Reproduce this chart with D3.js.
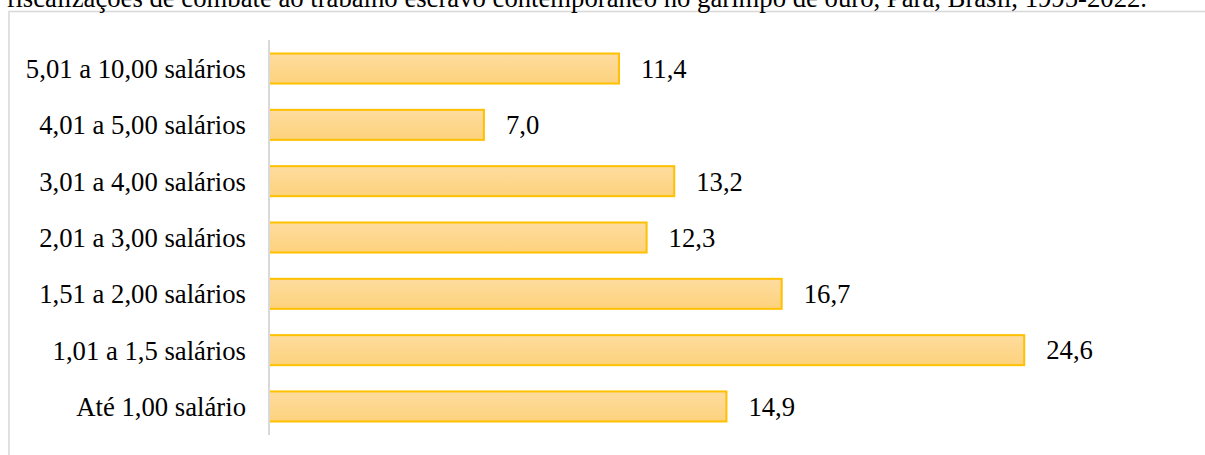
<!DOCTYPE html>
<html>
<head>
<meta charset="utf-8">
<script src="https://cdn.jsdelivr.net/npm/d3@7"></script>
<style>
  body { margin: 0; background: #fff; }
  svg { display: block; }
</style>
</head>
<body>
<svg id="chart" width="1205" height="455"></svg>
<script>
const titleText = "fiscalizações de combate ao trabalho escravo contemporâneo no garimpo de ouro, Pará, Brasil, 1995-2022.";
const categories = [
  "5,01 a 10,00 salários",
  "4,01 a 5,00 salários",
  "3,01 a 4,00 salários",
  "2,01 a 3,00 salários",
  "1,51 a 2,00 salários",
  "1,01 a 1,5 salários",
  "Até 1,00 salário"
];
const values = [11.4, 7.0, 13.2, 12.3, 16.7, 24.6, 14.9];

const width = 1205, height = 455;
const serif = "'Liberation Serif'";
const fontSize = 26.7;
const svg = d3.select("#chart");
const fmt = v => v.toFixed(1).replace(".", ",");

// gradient fill for bars
const defs = svg.append("defs");
const grad = defs.append("linearGradient")
  .attr("id", "barFill")
  .attr("x1", 0).attr("y1", 0).attr("x2", 0).attr("y2", 1);
grad.append("stop").attr("offset", "0%").attr("stop-color", "#fedc9f");
grad.append("stop").attr("offset", "100%").attr("stop-color", "#fdd27c");

// chart frame (runs off the right and bottom edges)
svg.append("rect")
  .attr("x", 9).attr("y", 11.5)
  .attr("width", width + 20).attr("height", height + 20)
  .attr("fill", "none")
  .attr("stroke", "#d9d9d9")
  .attr("stroke-width", 1.6);

// title, mostly cropped above the frame as in the source
svg.append("text")
  .attr("x", 1147).attr("y", 6.5)
  .attr("text-anchor", "end")
  .attr("font-family", serif)
  .attr("font-size", fontSize)
  .text(titleText);

const x = d3.scaleLinear()
  .domain([0, 30])
  .range([269, 269 + 921]);

const y = d3.scaleBand()
  .domain(categories)
  .range([40, 435])
  .paddingInner(0.467)
  .paddingOuter(0.24);

// bars
svg.append("g")
  .selectAll("rect")
  .data(values)
  .join("rect")
    .attr("x", x(0))
    .attr("y", (d, i) => y(categories[i]))
    .attr("width", d => x(d) - x(0))
    .attr("height", y.bandwidth())
    .attr("fill", "url(#barFill)")
    .attr("stroke", "#ffc000")
    .attr("stroke-width", 2);

// category axis
const yAxis = svg.append("g")
  .attr("transform", `translate(${x(0)},0)`)
  .call(d3.axisLeft(y).tickSize(0).tickPadding(23))
  .attr("font-family", serif)
  .attr("font-size", fontSize);
yAxis.select(".domain").remove();
yAxis.selectAll("text")
  .attr("fill", "#000")
  .attr("dy", "0.35em");

svg.append("line")
  .attr("x1", x(0)).attr("x2", x(0))
  .attr("y1", 40).attr("y2", 435)
  .attr("stroke", "#d9d9d9")
  .attr("stroke-width", 2);

// value labels
svg.append("g")
  .attr("font-family", serif)
  .attr("font-size", fontSize)
  .selectAll("text")
  .data(values)
  .join("text")
    .attr("x", d => x(d) + 22)
    .attr("y", (d, i) => y(categories[i]) + y.bandwidth() / 2)
    .attr("dy", "0.35em")
    .text(d => fmt(d));
</script>
</body>
</html>
